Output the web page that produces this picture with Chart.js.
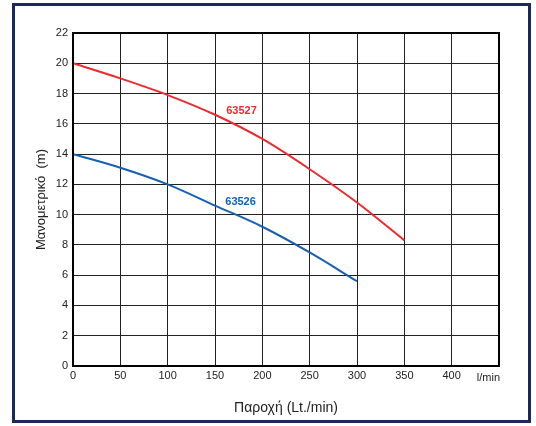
<!DOCTYPE html>
<html>
<head>
<meta charset="utf-8">
<script src="https://cdn.jsdelivr.net/npm/chart.js@4"></script>
<style>
  html, body { margin: 0; padding: 0; background: #fff; }
  #wrap { width: 536px; height: 426px; }
</style>
</head>
<body>
<div id="wrap"><canvas id="myChart" width="536" height="426"></canvas></div>
<script>
// Παροχή (l/min)
var flow63527 = [0, 50, 100, 150, 200, 250, 300, 350];
var head63527 = [20, 19.0, 17.9, 16.6, 15.0, 13.0, 10.8, 8.3];

var flow63526 = [0, 50, 100, 150, 200, 250, 300];
var head63526 = [14, 13.1, 12.0, 10.6, 9.2, 7.5, 5.6];

var seriesNames = ['63527', '63526'];
var seriesColors = ['#ee2a2e', '#1560b0'];
// label anchors in data units
var labelFlow = [178, 177];
var labelHead = [16.85, 10.83];
var unitLabel = 'l/min';

var FONT = '"Liberation Sans", Arial, sans-serif';

function pts(xs, ys) {
  return xs.map(function (x, i) { return { x: x, y: ys[i] }; });
}

var ctx = document.getElementById('myChart').getContext('2d');

var decor = {
  id: 'decor',
  beforeDraw: function (chart) {
    var c = chart.ctx;
    c.save();
    c.fillStyle = '#fff';
    c.fillRect(0, 0, chart.width, chart.height);
    c.strokeStyle = '#1b2858';
    c.lineWidth = 3;
    c.strokeRect(13.5, 4.5, 516, 417);
    c.restore();
  },
  afterDatasetsDraw: function (chart) {
    var c = chart.ctx;
    var xs = chart.scales.x, ys = chart.scales.y;
    c.save();
    c.font = 'bold 11px ' + FONT;
    c.textAlign = 'center';
    c.textBaseline = 'middle';
    seriesNames.forEach(function (n, i) {
      c.fillStyle = seriesColors[i];
      c.fillText(n, xs.getPixelForValue(labelFlow[i]), ys.getPixelForValue(labelHead[i]));
    });
    // plot frame
    var a = chart.chartArea;
    c.strokeStyle = '#000';
    c.lineWidth = 2;
    c.strokeRect(a.left, a.top, a.right - a.left, a.bottom - a.top);
    // unit at the end of the x axis
    c.fillStyle = '#222';
    c.font = '11px ' + FONT;
    c.textAlign = 'right';
    c.textBaseline = 'top';
    c.fillText(unitLabel, a.right + 1, a.bottom + 6);
    c.restore();
  }
};

var config = {
  type: 'line',
  data: {
    datasets: [{
      label: seriesNames[0],
      data: pts(flow63527, head63527),
      borderColor: seriesColors[0],
      borderWidth: 2,
      pointRadius: 0,
      tension: 0.4,
      cubicInterpolationMode: 'monotone',
      fill: false
    }, {
      label: seriesNames[1],
      data: pts(flow63526, head63526),
      borderColor: seriesColors[1],
      borderWidth: 2,
      pointRadius: 0,
      tension: 0.4,
      cubicInterpolationMode: 'monotone',
      fill: false
    }]
  },
  options: {
    responsive: false,
    animation: false,
    layout: { padding: { left: 34, top: 33, right: 37, bottom: 9 } },
    plugins: { legend: { display: false }, tooltip: { enabled: false } },
    scales: {
      x: {
        type: 'linear',
        min: 0, max: 450,
        ticks: {
          stepSize: 50,
          color: '#222',
          font: { family: FONT, size: 11 },
          maxRotation: 0,
          padding: 3,
          callback: function (v) { return v === 450 ? '' : v; }
        },
        grid: { color: '#222', lineWidth: 1, drawTicks: false },
        border: { display: false },
        title: {
          display: true,
          text: 'Παροχή (Lt./min)',
          color: '#222',
          font: { family: FONT, size: 14 },
          padding: { top: 0, bottom: 0 }
        },
        afterFit: function (s) { s.height = 51; }
      },
      y: {
        min: 0, max: 22,
        ticks: {
          stepSize: 2,
          color: '#222',
          font: { family: FONT, size: 11 },
          padding: 5
        },
        grid: { color: '#222', lineWidth: 1, drawTicks: false },
        border: { display: false },
        title: {
          display: true,
          text: 'Μανομετρικό  (m)',
          color: '#222',
          font: { family: FONT, size: 13 },
          padding: { top: 0, bottom: 0 }
        },
        afterFit: function (s) { s.width = 39; }
      }
    }
  },
  plugins: [decor]
};

var myChart = new Chart(ctx, config);
</script>
</body>
</html>
